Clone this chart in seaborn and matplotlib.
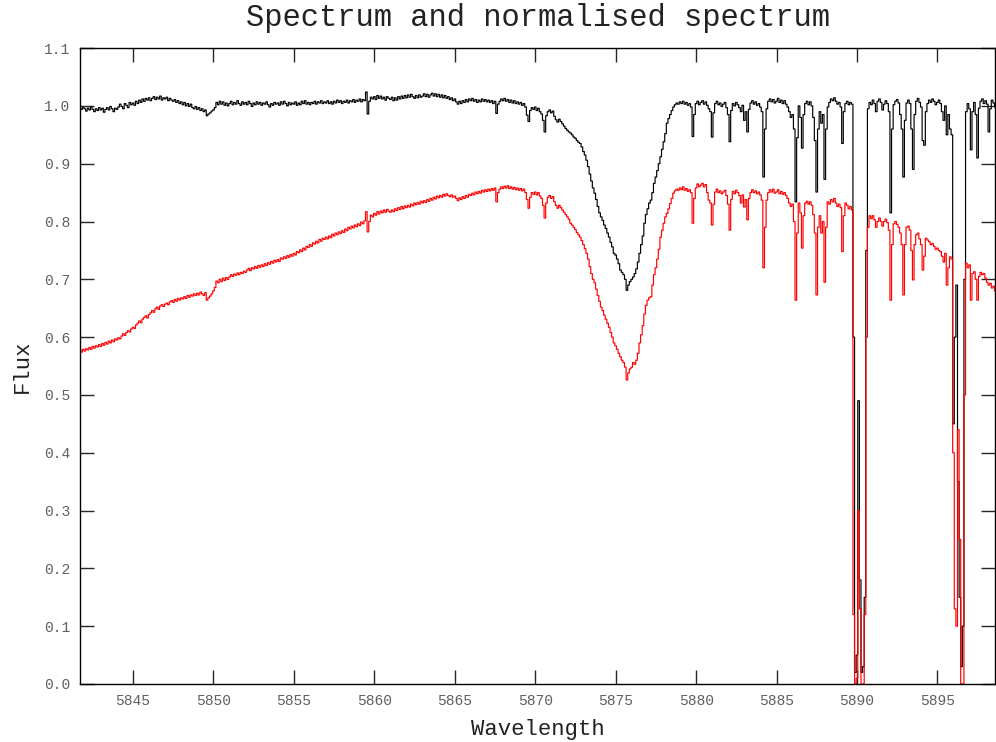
import numpy as np
import pandas as pd
import matplotlib
matplotlib.use("Agg")
import matplotlib.pyplot as plt
import seaborn as sns

# spectrum sampled every 0.1 A, one row per Angstrom starting at 5841.0
start_wl = 5841.0
step_wl = 0.1

norm_flux = [
    0.996, 0.993, 0.998, 0.994, 0.997, 0.995, 0.992, 0.996, 0.994, 0.997,  # 5841
    0.995, 0.991, 0.996, 0.993, 0.998, 0.994, 0.990, 0.995, 0.992, 0.997,  # 5842
    0.993, 0.996, 0.989, 0.994, 0.997, 0.993, 0.999, 0.995, 0.990, 0.996,  # 5843
    0.994, 0.998, 1.003, 0.999, 0.995, 1.004, 1.001, 0.997, 1.006, 1.002,  # 5844
    1.005, 1.001, 1.008, 1.004, 1.010, 1.006, 1.012, 1.008, 1.013, 1.010,  # 5845
    1.014, 1.009, 1.013, 1.016, 1.011, 1.015, 1.012, 1.017, 1.010, 1.014,  # 5846
    1.012, 1.015, 1.009, 1.013, 1.010, 1.008, 1.011, 1.006, 1.009, 1.004,  # 5847
    1.007, 1.002, 1.006, 1.000, 1.004, 0.999, 1.003, 0.997, 0.995, 0.999,  # 5848
    0.994, 0.997, 0.992, 0.995, 0.990, 0.993, 0.983, 0.986, 0.988, 0.991,  # 5849
    0.993, 0.997, 1.006, 1.002, 1.008, 1.003, 1.007, 1.001, 1.005, 1.000,  # 5850
    1.004, 1.008, 1.002, 1.006, 1.003, 1.009, 1.004, 1.001, 1.007, 1.003,  # 5851
    1.006, 1.002, 1.008, 1.004, 0.999, 1.005, 1.002, 1.007, 1.003, 1.006,  # 5852
    1.001, 1.005, 1.003, 1.007, 1.002, 0.998, 1.004, 1.001, 1.006, 1.003,  # 5853
    1.005, 1.001, 1.007, 1.003, 1.008, 1.004, 1.000, 1.006, 1.002, 1.005,  # 5854
    1.003, 1.007, 1.001, 1.005, 1.002, 1.008, 1.004, 1.009, 1.003, 1.006,  # 5855
    1.002, 1.006, 1.004, 1.008, 1.003, 1.007, 1.005, 1.009, 1.004, 1.007,  # 5856
    1.005, 1.009, 1.004, 1.007, 1.003, 1.008, 1.005, 1.010, 1.006, 1.009,  # 5857
    1.004, 1.008, 1.006, 1.010, 1.005, 1.009, 1.007, 1.011, 1.006, 1.010,  # 5858
    1.008, 1.012, 1.007, 1.011, 1.009, 1.024, 0.986, 1.008, 1.015, 1.012,  # 5859
    1.016, 1.011, 1.018, 1.013, 1.017, 1.012, 1.015, 1.010, 1.016, 1.013,  # 5860
    1.011, 1.015, 1.009, 1.014, 1.010, 1.016, 1.012, 1.017, 1.013, 1.018,  # 5861
    1.014, 1.019, 1.015, 1.020, 1.016, 1.013, 1.018, 1.014, 1.019, 1.015,  # 5862
    1.017, 1.021, 1.016, 1.020, 1.015, 1.019, 1.022, 1.017, 1.021, 1.016,  # 5863
    1.020, 1.015, 1.019, 1.014, 1.018, 1.013, 1.016, 1.011, 1.014, 1.009,  # 5864
    1.012, 1.007, 1.003, 1.008, 1.004, 1.009, 1.006, 1.011, 1.007, 1.012,  # 5865
    1.009, 1.013, 1.008, 1.011, 1.006, 1.010, 1.007, 1.012, 1.008, 1.011,  # 5866
    1.007, 1.010, 1.006, 1.009, 1.004, 1.008, 0.987, 1.003, 1.008, 1.012,  # 5867
    1.009, 1.013, 1.008, 1.011, 1.006, 1.010, 1.005, 1.009, 1.004, 1.007,  # 5868
    1.003, 1.006, 1.001, 1.004, 0.998, 0.984, 0.973, 0.992, 0.997, 0.994,  # 5869
    0.998, 0.992, 0.996, 0.990, 0.986, 0.975, 0.955, 0.983, 0.990, 0.993,  # 5870
    0.988, 0.991, 0.982, 0.976, 0.972, 0.977, 0.973, 0.969, 0.965, 0.961,  # 5871
    0.958, 0.955, 0.953, 0.950, 0.946, 0.944, 0.940, 0.937, 0.935, 0.929,  # 5872
    0.921, 0.915, 0.906, 0.895, 0.882, 0.870, 0.858, 0.849, 0.838, 0.826,  # 5873
    0.815, 0.808, 0.802, 0.794, 0.788, 0.780, 0.773, 0.764, 0.756, 0.745,  # 5874
    0.742, 0.735, 0.727, 0.716, 0.712, 0.708, 0.700, 0.681, 0.690, 0.696,  # 5875
    0.700, 0.704, 0.710, 0.718, 0.730, 0.745, 0.760, 0.775, 0.797, 0.812,  # 5876
    0.822, 0.832, 0.837, 0.850, 0.866, 0.877, 0.888, 0.900, 0.912, 0.925,  # 5877
    0.938, 0.952, 0.970, 0.978, 0.985, 0.992, 0.998, 1.002, 1.005, 1.003,  # 5878
    1.007, 1.004, 1.008, 1.003, 1.006, 1.001, 1.004, 0.998, 0.947, 0.985,  # 5879
    1.004, 1.008, 1.002, 1.006, 1.009, 1.003, 1.007, 1.001, 0.995, 0.990,  # 5880
    0.946, 0.988, 1.004, 1.008, 1.002, 1.005, 0.999, 1.003, 1.006, 0.997,  # 5881
    0.985, 0.938, 0.992, 1.004, 1.000, 1.006, 1.002, 0.997, 0.990, 1.001,  # 5882
    0.975, 0.990, 0.955, 0.994, 1.005, 1.009, 1.003, 1.007, 1.001, 1.004,  # 5883
    0.998, 0.990, 0.877, 0.960, 0.995, 1.008, 1.012, 1.007, 1.011, 1.005,  # 5884
    1.008, 1.013, 1.006, 1.010, 1.004, 1.009, 1.003, 0.998, 0.990, 0.980,  # 5885
    0.985, 0.960, 0.834, 0.945, 1.000, 0.980, 0.927, 0.985, 1.004, 1.008,  # 5886
    1.002, 1.007, 1.000, 0.980, 0.940, 0.851, 0.960, 0.990, 0.970, 0.985,  # 5887
    0.873, 0.960, 0.998, 1.006, 1.012, 1.009, 1.014, 1.008, 1.003, 1.006,  # 5888
    0.998, 0.935, 0.990, 1.004, 1.008, 1.002, 1.006, 1.003, 0.600, 0.020,  # 5889
    0.050, 0.490, 0.180, 0.020, 0.030, 0.150, 0.750, 0.995, 1.006, 1.002,  # 5890
    1.010, 1.004, 0.990, 1.008, 1.012, 1.006, 0.993, 1.003, 1.009, 1.004,  # 5891
    0.990, 0.815, 0.960, 1.002, 1.008, 1.011, 1.005, 0.985, 0.960, 0.877,  # 5892
    0.975, 1.005, 1.010, 1.004, 0.960, 0.890, 0.985, 1.008, 1.013, 1.006,  # 5893
    0.998, 0.940, 0.932, 0.990, 1.004, 1.010, 1.006, 1.012, 1.008, 1.002,  # 5894
    1.006, 1.010, 1.004, 0.990, 0.975, 1.000, 0.950, 0.985, 0.960, 0.950,  # 5895
    0.450, 0.600, 0.690, 0.350, 0.150, 0.030, 0.100, 0.700, 0.990, 1.004,  # 5896
    0.995, 0.924, 0.990, 1.006, 0.985, 0.910, 0.996, 1.008, 1.012, 1.004,  # 5897
    1.009, 1.003, 0.955, 0.995, 1.010, 1.005, 0.998, 0.990, 0.995, 0.992,  # 5898
]

raw_flux = [
    0.568, 0.571, 0.569, 0.572, 0.570, 0.574, 0.571, 0.577, 0.574, 0.579,  # 5841
    0.576, 0.580, 0.578, 0.582, 0.579, 0.584, 0.581, 0.585, 0.583, 0.587,  # 5842
    0.584, 0.589, 0.586, 0.591, 0.588, 0.593, 0.590, 0.595, 0.592, 0.597,  # 5843
    0.595, 0.599, 0.597, 0.602, 0.606, 0.603, 0.608, 0.611, 0.609, 0.614,  # 5844
    0.617, 0.615, 0.621, 0.624, 0.628, 0.625, 0.631, 0.634, 0.637, 0.633,  # 5845
    0.639, 0.642, 0.646, 0.643, 0.649, 0.652, 0.648, 0.654, 0.656, 0.653,  # 5846
    0.657, 0.659, 0.656, 0.661, 0.663, 0.660, 0.665, 0.662, 0.667, 0.664,  # 5847
    0.668, 0.666, 0.670, 0.667, 0.672, 0.669, 0.673, 0.671, 0.675, 0.672,  # 5848
    0.676, 0.673, 0.678, 0.675, 0.672, 0.677, 0.664, 0.668, 0.671, 0.675,  # 5849
    0.680, 0.686, 0.697, 0.694, 0.700, 0.696, 0.702, 0.698, 0.703, 0.700,  # 5850
    0.704, 0.708, 0.705, 0.709, 0.707, 0.711, 0.708, 0.712, 0.710, 0.714,  # 5851
    0.712, 0.716, 0.719, 0.715, 0.720, 0.718, 0.722, 0.719, 0.724, 0.721,  # 5852
    0.725, 0.722, 0.727, 0.724, 0.729, 0.726, 0.731, 0.728, 0.733, 0.730,  # 5853
    0.734, 0.731, 0.737, 0.735, 0.739, 0.736, 0.741, 0.738, 0.743, 0.740,  # 5854
    0.745, 0.742, 0.748, 0.746, 0.751, 0.748, 0.754, 0.751, 0.757, 0.755,  # 5855
    0.760, 0.757, 0.763, 0.761, 0.766, 0.763, 0.769, 0.766, 0.771, 0.769,  # 5856
    0.773, 0.770, 0.775, 0.772, 0.778, 0.775, 0.780, 0.777, 0.782, 0.779,  # 5857
    0.784, 0.781, 0.787, 0.784, 0.790, 0.787, 0.792, 0.789, 0.794, 0.791,  # 5858
    0.796, 0.793, 0.799, 0.796, 0.801, 0.817, 0.782, 0.800, 0.811, 0.808,  # 5859
    0.814, 0.811, 0.817, 0.813, 0.818, 0.815, 0.820, 0.816, 0.821, 0.818,  # 5860
    0.816, 0.820, 0.817, 0.822, 0.819, 0.824, 0.821, 0.826, 0.822, 0.827,  # 5861
    0.824, 0.828, 0.825, 0.830, 0.827, 0.832, 0.829, 0.833, 0.830, 0.835,  # 5862
    0.832, 0.836, 0.833, 0.838, 0.835, 0.840, 0.837, 0.842, 0.839, 0.844,  # 5863
    0.841, 0.845, 0.842, 0.847, 0.844, 0.848, 0.845, 0.843, 0.846, 0.842,  # 5864
    0.844, 0.840, 0.836, 0.841, 0.838, 0.843, 0.840, 0.845, 0.842, 0.847,  # 5865
    0.845, 0.849, 0.846, 0.851, 0.848, 0.852, 0.849, 0.854, 0.851, 0.855,  # 5866
    0.852, 0.856, 0.853, 0.857, 0.854, 0.858, 0.834, 0.850, 0.856, 0.860,  # 5867
    0.857, 0.861, 0.858, 0.862, 0.857, 0.860, 0.856, 0.859, 0.855, 0.858,  # 5868
    0.854, 0.857, 0.853, 0.856, 0.850, 0.838, 0.823, 0.842, 0.850, 0.847,  # 5869
    0.851, 0.846, 0.850, 0.844, 0.840, 0.828, 0.806, 0.832, 0.842, 0.845,  # 5870
    0.840, 0.843, 0.834, 0.828, 0.823, 0.828, 0.824, 0.820, 0.816, 0.812,  # 5871
    0.808, 0.804, 0.797, 0.794, 0.790, 0.786, 0.781, 0.777, 0.773, 0.767,  # 5872
    0.760, 0.753, 0.745, 0.735, 0.722, 0.710, 0.700, 0.694, 0.683, 0.672,  # 5873
    0.662, 0.652, 0.646, 0.638, 0.631, 0.624, 0.617, 0.608, 0.600, 0.590,  # 5874
    0.585, 0.579, 0.572, 0.566, 0.560, 0.556, 0.548, 0.526, 0.538, 0.545,  # 5875
    0.548, 0.556, 0.553, 0.560, 0.572, 0.590, 0.604, 0.620, 0.640, 0.655,  # 5876
    0.664, 0.668, 0.670, 0.690, 0.708, 0.720, 0.735, 0.752, 0.773, 0.785,  # 5877
    0.797, 0.808, 0.814, 0.822, 0.831, 0.840, 0.849, 0.853, 0.856, 0.854,  # 5878
    0.858, 0.855, 0.860, 0.854, 0.857, 0.852, 0.855, 0.850, 0.797, 0.840,  # 5879
    0.858, 0.865, 0.860, 0.863, 0.866, 0.860, 0.864, 0.850, 0.837, 0.832,  # 5880
    0.794, 0.830, 0.851, 0.856, 0.850, 0.853, 0.848, 0.851, 0.854, 0.845,  # 5881
    0.830, 0.785, 0.838, 0.852, 0.848, 0.854, 0.850, 0.845, 0.832, 0.846,  # 5882
    0.825, 0.838, 0.803, 0.840, 0.850, 0.855, 0.850, 0.853, 0.848, 0.851,  # 5883
    0.846, 0.837, 0.720, 0.790, 0.837, 0.850, 0.855, 0.851, 0.856, 0.849,  # 5884
    0.851, 0.855, 0.848, 0.852, 0.847, 0.850, 0.845, 0.840, 0.832, 0.826,  # 5885
    0.830, 0.800, 0.664, 0.780, 0.832, 0.815, 0.754, 0.810, 0.832, 0.835,  # 5886
    0.830, 0.834, 0.828, 0.812, 0.780, 0.673, 0.790, 0.810, 0.780, 0.800,  # 5887
    0.695, 0.790, 0.834, 0.830, 0.838, 0.834, 0.840, 0.832, 0.826, 0.830,  # 5888
    0.824, 0.748, 0.810, 0.832, 0.828, 0.822, 0.826, 0.820, 0.120, 0.000,  # 5889
    0.010, 0.300, 0.130, 0.000, 0.000, 0.120, 0.600, 0.790, 0.810, 0.805,  # 5890
    0.810, 0.803, 0.790, 0.800, 0.806, 0.800, 0.792, 0.800, 0.804, 0.798,  # 5891
    0.785, 0.664, 0.760, 0.796, 0.800, 0.795, 0.790, 0.780, 0.760, 0.673,  # 5892
    0.760, 0.790, 0.792, 0.785, 0.750, 0.699, 0.760, 0.777, 0.780, 0.770,  # 5893
    0.760, 0.716, 0.740, 0.771, 0.768, 0.765, 0.760, 0.762, 0.757, 0.752,  # 5894
    0.754, 0.750, 0.748, 0.740, 0.730, 0.745, 0.690, 0.720, 0.739, 0.735,  # 5895
    0.400, 0.130, 0.100, 0.440, 0.250, 0.000, 0.000, 0.500, 0.728, 0.720,  # 5896
    0.725, 0.664, 0.710, 0.713, 0.700, 0.664, 0.705, 0.712, 0.708, 0.710,  # 5897
    0.702, 0.695, 0.690, 0.693, 0.685, 0.688, 0.680, 0.676, 0.680, 0.675,  # 5898
]

x_ticks = [5845, 5850, 5855, 5860, 5865, 5870, 5875, 5880, 5885, 5890, 5895]
y_ticks = [0.0, 0.1, 0.2, 0.3, 0.4, 0.5, 0.6, 0.7, 0.8, 0.9, 1.0, 1.1]

wavelength = start_wl + step_wl * np.arange(len(norm_flux))
df = pd.DataFrame({"wavelength": wavelength, "norm": norm_flux, "raw": raw_flux})

sns.set_theme(style="ticks")
plt.rcParams["font.family"] = ["Liberation Mono", "DejaVu Sans Mono"]

fig = plt.figure(figsize=(9.96, 7.42), dpi=100)
ax = fig.add_axes([0.0803, 0.0782, 0.919, 0.857])

sns.lineplot(data=df, x="wavelength", y="norm", color="black", lw=0.85,
             drawstyle="steps-mid", estimator=None, ax=ax)
sns.lineplot(data=df, x="wavelength", y="raw", color="red", lw=0.85,
             drawstyle="steps-mid", estimator=None, ax=ax)

ax.set_xlim(5841.7, 5898.6)
ax.set_ylim(0.0, 1.1)
ax.set_xticks(x_ticks)
ax.set_yticks(y_ticks)
ax.set_yticklabels([f"{v:.1f}" for v in y_ticks])
ax.tick_params(direction="in", length=10, width=1, top=True, right=True,
               labelsize=10.5, labelcolor="#606060", pad=7)
for s in ax.spines.values():
    s.set_linewidth(1.0)
    s.set_color("black")

ax.set_title("Spectrum and normalised spectrum", fontsize=22, color="#222222", pad=16)
ax.set_xlabel("Wavelength", fontsize=16, color="#222222", labelpad=8)
ax.set_ylabel("Flux", fontsize=16, color="#222222", labelpad=8)

fig.savefig("out.png", dpi=100)
